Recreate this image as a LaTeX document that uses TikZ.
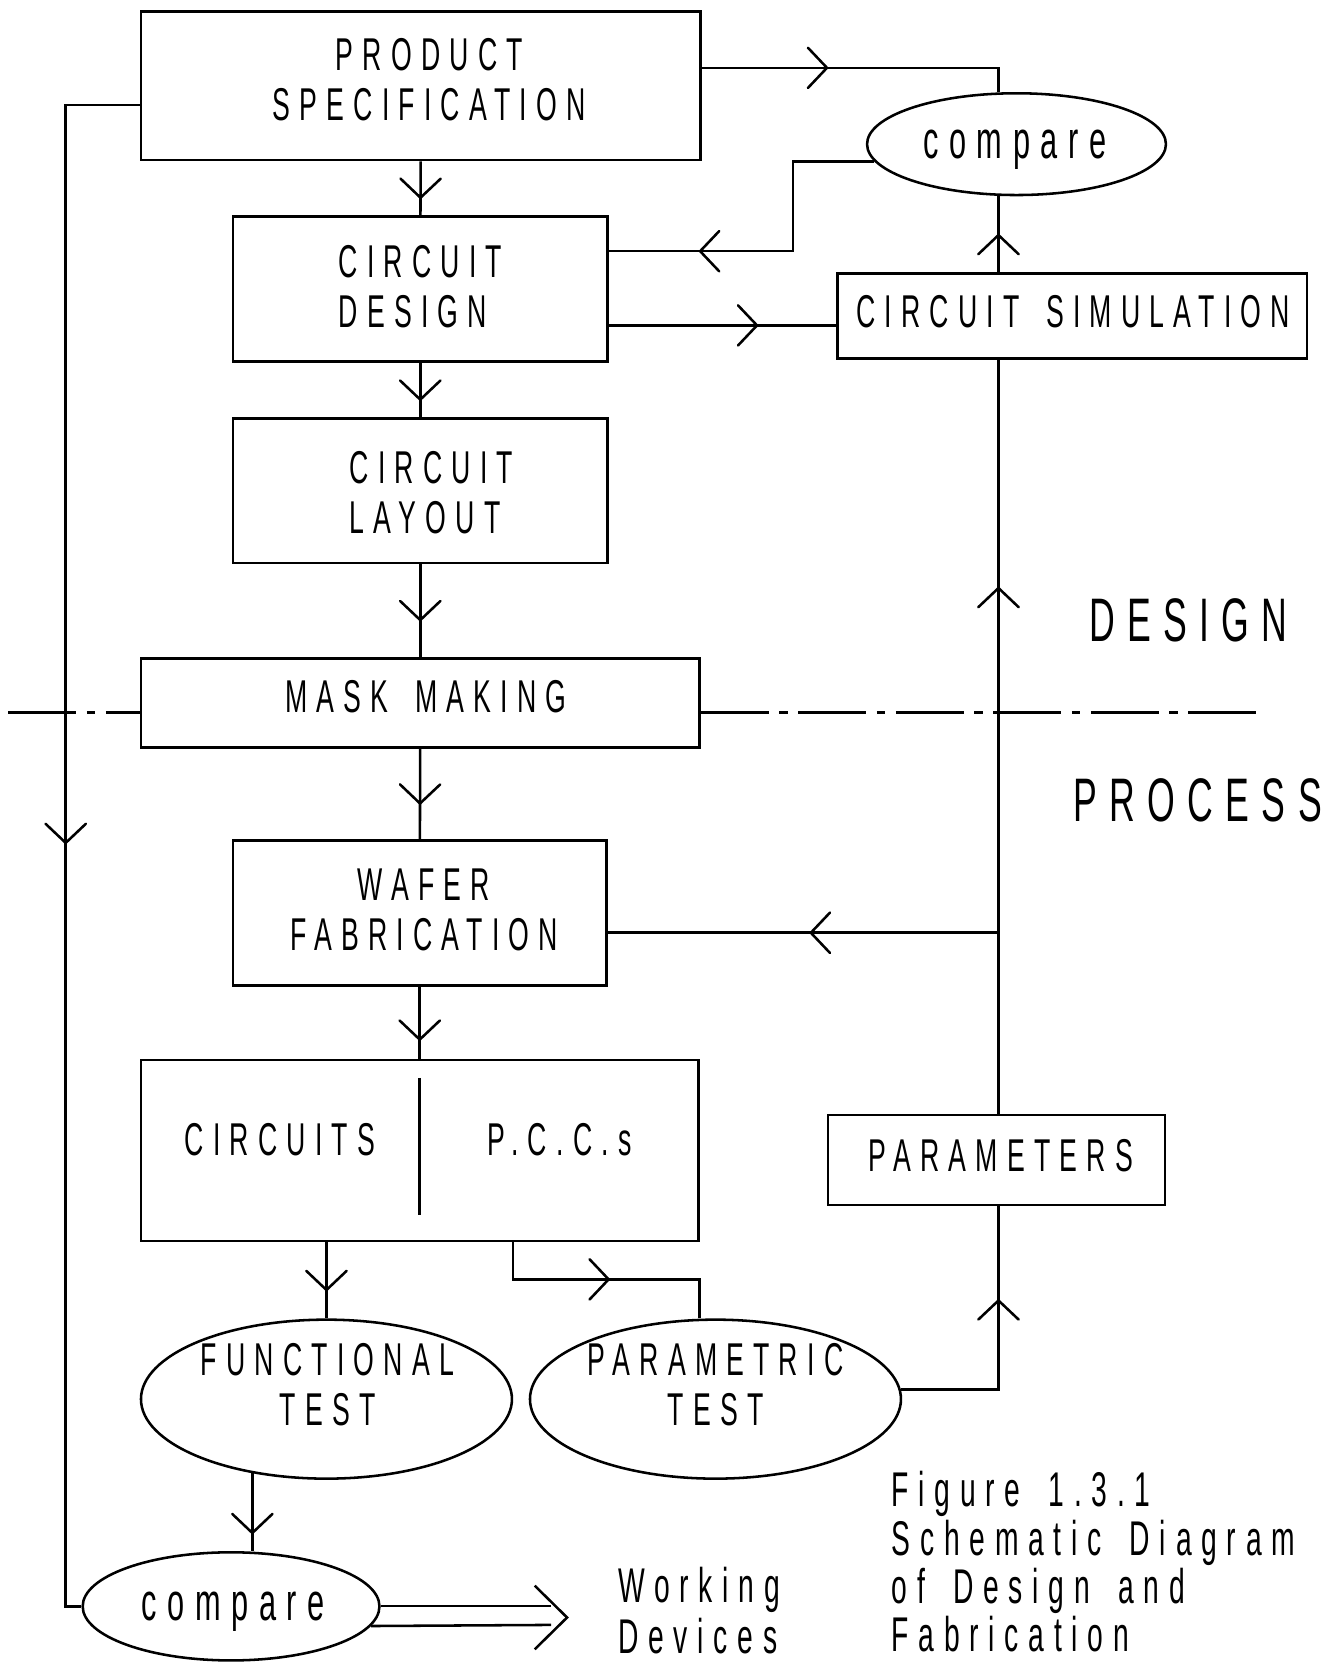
\documentclass[tikz,border=0pt]{standalone}
\usepackage{fontspec}
\setmainfont{Liberation Sans}[FakeStretch=0.58,LetterSpace=20,WordSpace=1.6]
\usetikzlibrary{shapes.geometric,decorations.markings}
\tikzset{
  box/.style={draw, rectangle, inner sep=0pt},
  oval/.style={draw, ellipse, inner sep=0pt},
  lbl/.style={font=\fontsize{21.7}{23.5}\selectfont, align=center, inner sep=0pt},
  cmpfont/.style={font=\fontsize{25}{25}\selectfont, inner sep=0pt, text depth=0pt},
  bigfont/.style={font=\fontsize{29}{29}\selectfont, inner sep=0pt},
  capfont/.style={font=\fontsize{23}{23}\selectfont, align=left, inner sep=0pt, anchor=north west},
  arrowat/.style={postaction={decorate,decoration={markings,mark=at position #1 with {\draw[line width=1.2pt,line cap=round,line join=miter] (-4.5pt,9.5pt)--(4.5pt,0pt)--(-4.5pt,-9.5pt);}}}},
  dashdot/.style={dash pattern=on 32pt off 5pt on 4pt off 5pt},
}
\begin{document}
\begin{tikzpicture}[x=0.5pt,y=-0.5pt,line width=1.2pt]
\useasboundingbox (0,0) rectangle (1263,1568);
% boxes
\node[box,minimum width=264pt,minimum height=70pt,label={[lbl,xshift=4pt,yshift=2.75pt]center:PRODUCT\\SPECIFICATION}] (spec) at (397,81) {};
\node[box,minimum width=176.5pt,minimum height=68.5pt,label={[lbl,align=left,yshift=1pt]center:CIRCUIT\\DESIGN}] (design) at (396.5,272.5) {};
\node[box,minimum width=176.5pt,minimum height=68pt,label={[lbl,align=left,xshift=5.25pt,yshift=-0.75pt]center:CIRCUIT\\LAYOUT}] (layout) at (396.5,463) {};
\node[box,minimum width=263.5pt,minimum height=42pt,label={[lbl,xshift=2.75pt,yshift=3pt]center:MASK MAKING}] (mask) at (396.5,663) {};
\node[box,minimum width=176pt,minimum height=68.5pt,label={[lbl,xshift=2pt,yshift=1.5pt]center:WAFER\\FABRICATION}] (wafer) at (396,861.5) {};
\node[box,minimum width=263pt,minimum height=85.5pt,
  label={[lbl,xshift=-66pt,yshift=5.25pt]center:CIRCUITS},
  label={[lbl,xshift=66pt,yshift=5.25pt]center:P.C.C.s}] (circ) at (396,1085.5) {};
\node[box,minimum width=221.5pt,minimum height=40pt,label={[lbl,xshift=0.5pt,yshift=2pt]center:CIRCUIT SIMULATION}] (sim) at (1011.5,298) {};
\node[box,minimum width=159pt,minimum height=42.5pt,label={[lbl,xshift=2pt,yshift=2.25pt]center:PARAMETERS}] (params) at (940,1094.5) {};
% ellipses
\node[oval,minimum width=141pt,minimum height=48pt,label={[cmpfont,xshift=-0.75pt]center:compare}] (cmp1) at (959,136) {};
\node[oval,minimum width=175pt,minimum height=75pt,label={[lbl,xshift=0.5pt,yshift=6.75pt]center:FUNCTIONAL\\TEST}] (funcT) at (308,1320) {};
\node[oval,minimum width=175pt,minimum height=75pt,label={[lbl,yshift=6.75pt]center:PARAMETRIC\\TEST}] (parT) at (675,1320) {};
\node[oval,minimum width=140pt,minimum height=51pt,label={[cmpfont,xshift=1pt]center:compare}] (cmp2) at (218,1515.5) {};
% divider in the circuits box
\draw ([yshift=-9pt]circ.north) -- ([yshift=13pt]circ.south);
% free texts
\node[bigfont] (dsg) at (1121,585) {DESIGN};
\node[bigfont] (prc) at (1130,755) {PROCESS};
\node[capfont,font=\fontsize{23}{24}\selectfont] (wdev) at (582,1477) {Working\\Devices};
\node[capfont,font=\fontsize{23}{22.8}\selectfont] (caption) at (840,1387) {Figure 1.3.1\\Schematic Diagram\\of Design and\\Fabrication};
% helper coordinates
\coordinate (yTop) at (0,64);
\coordinate (xR) at (942,0);
\coordinate (kL) at (748,237);
\coordinate (yC) at (0,307);
\coordinate (br) at (942,880);
\coordinate (yL) at (0,99);
\coordinate (xLL) at (62,0);
\coordinate (k2) at (484,1207);
\coordinate (xQ) at (660,0);
\coordinate (yDash) at (0,672);
\coordinate (dashL) at (8,672);
\coordinate (dashR) at (1188,672);
\coordinate (dblU) at (520,1515);
\coordinate (dblL) at (520,1533);
\coordinate (tip) at (535,1526);
% main column
\draw[arrowat=0.5] (spec) -- (design);
\draw[arrowat=0.5] (design) -- (layout);
\draw[arrowat=0.5] (layout) -- (mask);
\draw[arrowat=0.5] (mask) -- (wafer);
\draw[arrowat=0.6] (wafer) -- (circ);
% spec -> compare (top)
\draw[arrowat=54.5pt] (spec.east |- yTop) -| (cmp1.north -| xR);
% compare -> circuit design
\draw[arrowat=120pt] (cmp1.187) -| (kL) -- (design.east |- kL);
% circuit design -> simulation
\draw[arrowat=65.5pt] (design.east |- yC) -- (sim.west |- yC);
% simulation -> compare
\draw[arrowat=13pt] (sim.north -| xR) -- (cmp1.south -| xR);
% parameters -> simulation
\draw[arrowat=243.5pt] (params.north -| xR) -- (sim.south -| xR);
% branch -> wafer fabrication
\draw[arrowat=84pt] (br) -- (wafer.east |- br);
% parametric test -> parameters
\draw[arrowat=83.5pt] (parT.3) -| (params.south -| xR);
% circuits -> functional test
\draw[arrowat=0.5] (funcT.north |- circ.south) -- (funcT.north);
% pccs -> parametric test
\draw[arrowat=58pt] (circ.south -| k2) -- (k2) -| (parT.north -| xQ);
% functional test -> compare
\draw[arrowat=0.645] (funcT.225) -- (funcT.225 |- cmp2.north);
% spec -> compare (left)
\draw[arrowat=378.5pt] (spec.west |- yL) -| (cmp2.west -| xLL) -- (cmp2.west);
% design / process line
\draw[dashdot] (dashL) -- (mask.west |- yDash);
\draw[dashdot] (mask.east |- yDash) -- (dashR);
% double arrow
\draw (cmp2.east |- dblU) -- (dblU);
\draw (cmp2.352) -- (dblL);
\draw ([shift={(-30.5,-30)}]tip) -- (tip) -- ([shift={(-30.5,30)}]tip);
\end{tikzpicture}
\end{document}
